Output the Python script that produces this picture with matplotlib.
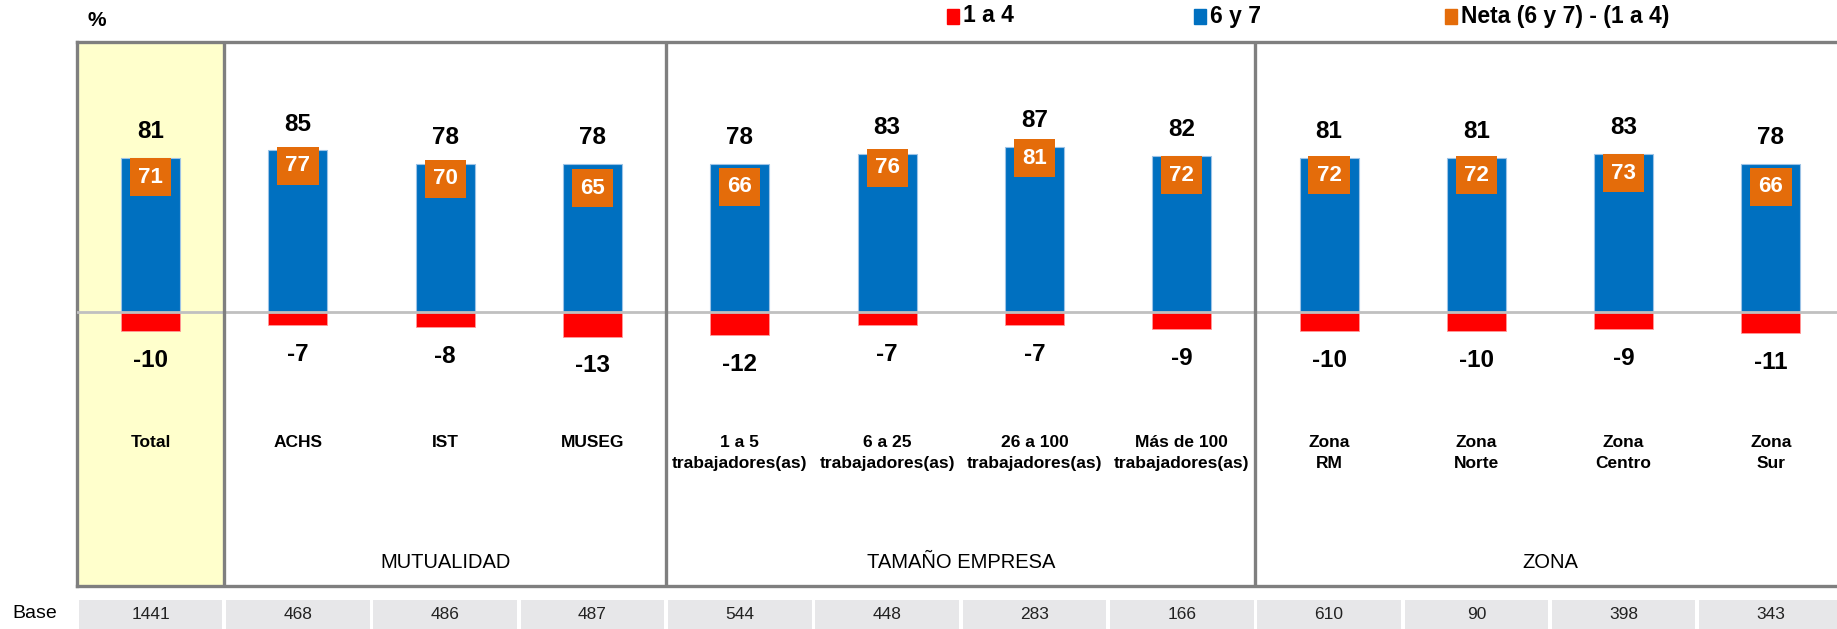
import matplotlib
matplotlib.use("Agg")
import matplotlib.pyplot as plt
from matplotlib.patches import Rectangle
import matplotlib.transforms as mtransforms
import numpy as np

plt.rcParams['font.family'] = ['Liberation Sans Narrow', 'Liberation Sans', 'DejaVu Sans']

categories = ['Total', 'ACHS', 'IST', 'MUSEG',
              '1 a 5\ntrabajadores(as)', '6 a 25\ntrabajadores(as)',
              '26 a 100\ntrabajadores(as)', 'Más de 100\ntrabajadores(as)',
              'Zona\nRM', 'Zona\nNorte', 'Zona\nCentro', 'Zona\nSur']
top_6y7 = [81, 85, 78, 78, 78, 83, 87, 82, 81, 81, 83, 78]
low_1a4 = [-10, -7, -8, -13, -12, -7, -7, -9, -10, -10, -9, -11]
neta = [71, 77, 70, 65, 66, 76, 81, 72, 72, 72, 73, 66]
base = [1441, 468, 486, 487, 544, 448, 283, 166, 610, 90, 398, 343]
groups = ['MUTUALIDAD', 'TAMAÑO EMPRESA', 'ZONA']
group_first = [1, 4, 8]
group_last = [3, 7, 11]
legend_labels = ['1 a 4', '6 y 7', 'Neta (6 y 7) - (1 a 4)']

BLUE = '#0070C0'
RED = '#FF0000'
ORANGE = '#E46C0A'
FRAME = '#7F7F7F'

W, H = 1837, 629
fig = plt.figure(figsize=(W / 100, H / 100), dpi=100)

def fx(px):
    return px / W

def fy(px):
    return 1 - px / H

left_px = 77
slot = 147.3
n = len(categories)
ax_l = fx(left_px)
ax_w = n * slot / W
top_px, bot_px = 42, 586
ax = fig.add_axes([ax_l, fy(bot_px), ax_w, (bot_px - top_px) / H])
ax.set_xlim(-0.5, n - 0.5)
ax.set_ylim(-144, 142)
x = np.arange(n)

# Total highlight
ax.axvspan(-0.5, 0.5, color='#FFFFCC', zorder=0)

ax.bar(x, top_6y7, width=0.4, color=BLUE, edgecolor='#9DC3E6', linewidth=0.8, zorder=2)
ax.bar(x, low_1a4, width=0.4, color=RED, edgecolor='#FF9999', linewidth=0.6, zorder=2)
ax.axhline(0, color='#C0C0C0', lw=2, zorder=3)

box_h = 20
ax.bar(x, box_h, bottom=np.array(neta) - box_h / 2, width=0.28, color=ORANGE, zorder=4)
for xi, v in zip(x, neta):
    ax.text(xi, v, str(v), ha='center', va='center', color='white',
            fontsize=16, fontweight='bold', zorder=5)

for xi, v in zip(x, top_6y7):
    ax.annotate(str(v), (xi, v), xytext=(0, 19), textcoords='offset points',
                ha='center', va='center', fontsize=17.5, fontweight='bold', color='black')
for xi, v in zip(x, low_1a4):
    ax.annotate(str(v), (xi, v), xytext=(0, -21), textcoords='offset points',
                ha='center', va='center', fontsize=17.5, fontweight='bold', color='black')

trans = mtransforms.blended_transform_factory(ax.transData, ax.transAxes)
for xi, c in zip(x, categories):
    ax.text(xi, (bot_px - 435) / (bot_px - top_px), c, transform=trans, ha='center', va='top',
            fontsize=12.5, fontweight='bold', linespacing=1.5)
for g, a, b in zip(groups, group_first, group_last):
    ax.text((a + b) / 2, (bot_px - 563) / (bot_px - top_px), g, transform=trans,
            ha='center', va='center', fontsize=14.5)

for sep in [0.5, 3.5, 7.5]:
    ax.axvline(sep, color=FRAME, lw=2.4, zorder=6)
for s in ['top', 'bottom', 'left', 'right']:
    ax.spines[s].set_color(FRAME)
    ax.spines[s].set_linewidth(2.4)
ax.set_xticks([])
ax.set_yticks([])

# Base row
bax = fig.add_axes([ax_l, fy(629), ax_w, 29 / H])
bax.set_xlim(-0.5, n - 0.5)
bax.set_ylim(0, 1)
bax.bar(x, 1, width=0.975, color='#E7E7E9')
for xi, b in zip(x, base):
    bax.text(xi, 0.5, str(b), ha='center', va='center', fontsize=12.5, color='#222222')
bax.axis('off')
fig.text(fx(35), fy(614), 'Base', ha='center', va='center', fontsize=14)

# % label
fig.text(fx(97), fy(21), '%', ha='center', va='center', fontsize=15, fontweight='bold')

# Legend
leg_colors = [RED, BLUE, ORANGE]
sq_left = [947, 1194, 1445]
for lab, col, sx in zip(legend_labels, leg_colors, sq_left):
    fig.patches.append(Rectangle((fx(sx), fy(24)), fx(12), 15 / H, transform=fig.transFigure,
                                 color=col, figure=fig))
    fig.text(fx(sx + 16), fy(16), lab, ha='left', va='center', fontsize=16.5, fontweight='bold')

fig.savefig('out.png', dpi=100)
